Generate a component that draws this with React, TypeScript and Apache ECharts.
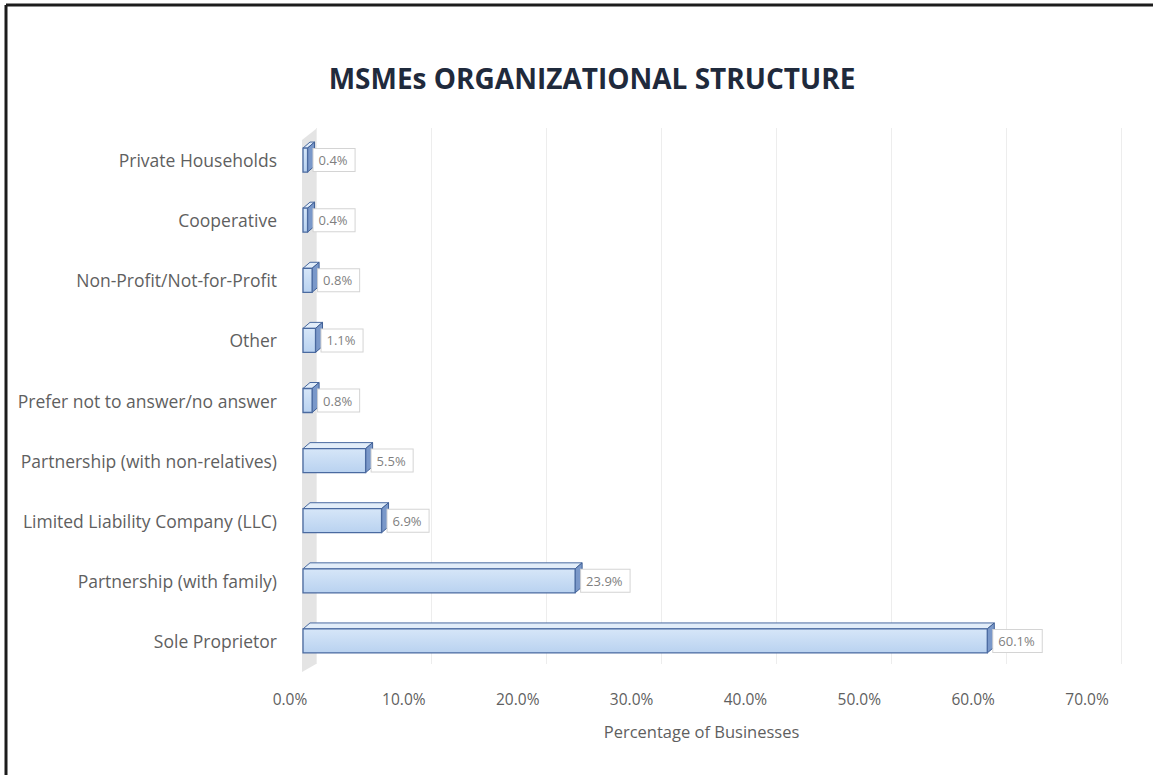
import React, { useEffect, useRef } from "react";
import * as echarts from "echarts";

const categories = [
  "Sole Proprietor",
  "Partnership (with family)",
  "Limited Liability Company (LLC)",
  "Partnership (with non-relatives)",
  "Prefer not to answer/no answer",
  "Other",
  "Non-Profit/Not-for-Profit",
  "Cooperative",
  "Private Households",
];
const values = [60.1, 23.9, 6.9, 5.5, 0.8, 1.1, 0.8, 0.4, 0.4];
const xTicks = { min: 0, max: 70, interval: 10 };

const FONT = "'Open Sans', 'Noto Sans', sans-serif";

export default function App() {
  const ref = useRef<HTMLDivElement>(null);
  useEffect(() => {
    if (!ref.current) return;
    const chart = echarts.init(ref.current, undefined, { renderer: "svg" });
    const frontGradient = new echarts.graphic.LinearGradient(0, 0, 0, 1, [
      { offset: 0, color: "#d6e6f8" },
      { offset: 1, color: "#b9d2f0" },
    ]);
    const option: any = {
      animation: false,
      backgroundColor: "#ffffff",
      title: {
        text: "MSMEs ORGANIZATIONAL STRUCTURE",
        left: 587,
        top: 59,
        textAlign: "center",
        textStyle: { fontFamily: FONT, fontSize: 28, fontWeight: "bold", color: "#1f2a3c" },
      },
      graphic: [
        { type: "line", shape: { x1: 6, y1: 5, x2: 1153, y2: 5 }, style: { stroke: "#1c1c1c", lineWidth: 3 } },
        { type: "line", shape: { x1: 6, y1: 5, x2: 6, y2: 775 }, style: { stroke: "#1c1c1c", lineWidth: 3 } },
        {
          type: "polygon",
          z: -1,
          shape: { points: [[302, 140], [316, 129], [316, 664], [302, 672]] },
          style: { fill: "#e4e4e4" },
        },
      ],
      grid: [
        { left: 303, right: 53, top: 130, bottom: 104 },
        { left: 316, right: 32, top: 128, bottom: 111 },
      ],
      xAxis: [
        {
          gridIndex: 0,
          type: "value",
          min: xTicks.min,
          max: xTicks.max,
          interval: xTicks.interval,
          name: "Percentage of Businesses",
          nameLocation: "middle",
          nameGap: 52,
          nameTextStyle: { fontFamily: FONT, fontSize: 16.5, color: "#5f5f5f" },
          axisLine: { show: false },
          axisTick: { show: false },
          splitLine: { show: false },
          axisLabel: {
            formatter: (v: number) => v.toFixed(1) + "%",
            fontFamily: FONT,
            fontSize: 15.5,
            color: "#5f5f5f",
            margin: 20,
            padding: [0, 26, 0, 0],
          },
        },
        {
          gridIndex: 1,
          type: "value",
          min: xTicks.min,
          max: xTicks.max,
          interval: xTicks.interval,
          axisLine: { show: false },
          axisTick: { show: false },
          axisLabel: { show: false },
          splitLine: { show: true, lineStyle: { color: "#ededed", width: 1 } },
        },
      ],
      yAxis: [
        {
          gridIndex: 0,
          type: "category",
          data: categories,
          axisLine: { show: false },
          axisTick: { show: false },
          axisLabel: {
            fontFamily: FONT,
            fontSize: 17.5,
            color: "#5f5f5f",
            margin: 26,
            padding: [8, 0, 0, 0],
          },
        },
        {
          gridIndex: 1,
          type: "category",
          data: categories,
          show: false,
        },
      ],
      series: [
        {
          type: "custom",
          xAxisIndex: 0,
          yAxisIndex: 0,
          data: values.map((v, i) => [v, i]),
          encode: { x: 0, y: 1 },
          renderItem: (params: any, api: any) => {
            const v = api.value(0);
            const idx = api.value(1);
            const p0 = api.coord([0, idx]);
            const p1 = api.coord([v, idx]);
            const h = 24;
            const dx = 7;
            const dy = 6;
            const x0 = p0[0];
            const x1 = p1[0];
            const cy = p0[1];
            const top = cy - h / 2;
            const bot = cy + h / 2;
            return {
              type: "group",
              children: [
                {
                  type: "polygon",
                  shape: { points: [[x0, top], [x1, top], [x1 + dx, top - dy], [x0 + dx, top - dy]] },
                  style: { fill: "#e2edf9", stroke: "#4a6aa0", lineWidth: 1 },
                },
                {
                  type: "polygon",
                  shape: { points: [[x1, top], [x1 + dx, top - dy], [x1 + dx, bot - dy], [x1, bot]] },
                  style: { fill: "#7a98c9", stroke: "#3f5f95", lineWidth: 1 },
                },
                {
                  type: "rect",
                  shape: { x: x0, y: top, width: Math.max(x1 - x0, 1), height: h },
                  style: { fill: frontGradient, stroke: "#4a6aa0", lineWidth: 1.3 },
                },
                {
                  type: "text",
                  x: x1 + 6,
                  y: cy,
                  style: {
                    text: v.toFixed(1) + "%",
                    fontFamily: FONT,
                    fontSize: 13,
                    fill: "#7f7f7f",
                    align: "left",
                    verticalAlign: "middle",
                    backgroundColor: "#ffffff",
                    borderColor: "#d4d4d4",
                    borderWidth: 1,
                    padding: [5, 7, 4, 5],
                  },
                },
              ],
            };
          },
        },
      ],
    };
    chart.setOption(option);
    return () => chart.dispose();
  }, []);
  return (
    <div
      ref={ref}
      style={{ position: "fixed", left: 0, top: 0, width: 1153, height: 775 }}
    />
  );
}
